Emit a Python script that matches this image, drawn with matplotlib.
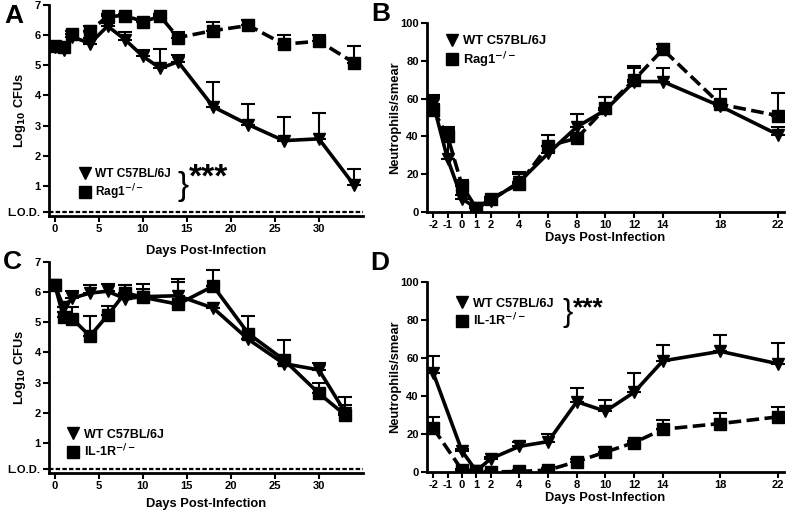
import numpy as np
import matplotlib
matplotlib.use("Agg")
import matplotlib.pyplot as plt
from matplotlib.lines import Line2D

plt.rcParams['font.family'] = ['Liberation Sans', 'DejaVu Sans']
plt.rcParams['font.weight'] = 'bold'
plt.rcParams['mathtext.default'] = 'bf'
plt.rcParams['axes.unicode_minus'] = False

# panel A - CFUs, WT vs Rag1-/-
a_days = [0, 1, 2, 4, 6, 8, 10, 12, 14, 18, 22, 26, 30, 34]
a_wt = [5.6, 5.5, 5.95, 5.72, 6.3, 5.85, 5.3, 4.9, 5.12, 3.62, 3.03, 2.5, 2.56, 1.02]
a_wt_top = [5.6, 5.5, 6.15, 5.9, 6.4, 6.1, 5.5, 5.55, 5.35, 4.45, 3.72, 3.28, 3.42, 1.55]
a_rag = [5.65, 5.6, 6.05, 6.15, 6.62, 6.65, 6.45, 6.62, 5.92, 6.15, 6.32, 5.7, 5.8, 5.08]
a_rag_top = [5.7, 5.65, 6.15, 6.3, 6.7, 6.7, 6.55, 6.7, 6.1, 6.45, 6.5, 6.0, 6.0, 5.65]

# panel B - neutrophils, WT vs Rag1-/-
b_days = [-2, -1, 0, 1, 2, 4, 6, 8, 10, 12, 14, 18, 22]
b_wt = [57, 28, 7, 2, 6, 16, 31, 45, 54, 69, 69, 56, 41]
b_wt_top = [62, 44, 9, 3, 7, 21, 35, 52, 61, 76, 76, 58, 45]
b_rag = [54, 40, 14, 2, 7, 15, 35, 39, 55, 70, 86, 57, 51]
b_rag_top = [61, 45, 17, 3, 8, 20, 41, 40, 61, 77, 89, 65, 63]

# panel C - CFUs, WT vs IL-1R-/-
c_days = [0, 1, 2, 4, 6, 8, 10, 14, 18, 22, 26, 30, 33]
c_wt = [6.25, 5.5, 5.8, 5.97, 6.03, 5.78, 5.85, 5.88, 5.47, 4.43, 3.63, 3.42, 2.0]
c_wt_top = [6.25, 5.5, 6.05, 6.25, 6.28, 6.25, 6.27, 6.45, 5.47, 4.43, 3.63, 3.65, 2.52]
c_il1r = [6.25, 5.17, 5.12, 4.54, 5.23, 5.98, 5.83, 5.6, 6.2, 4.62, 3.76, 2.64, 1.92]
c_il1r_top = [6.25, 5.35, 5.5, 5.2, 5.55, 6.25, 6.1, 6.35, 6.75, 5.22, 4.4, 3.0, 2.25]

# panel D - neutrophils, WT vs IL-1R-/-
d_wt_days = [-2, 0, 1, 2, 4, 6, 8, 10, 12, 14, 18, 22]
d_wt = [52, 11, 0.5, 7, 13.5, 16, 37, 32, 42, 58.5, 63.5, 57]
d_wt_top = [61, 12, 1, 8, 16, 20, 44, 38, 52, 67, 72, 68]
d_il_days = [-2, 0, 1, 2, 4, 6, 8, 10, 12, 14, 18, 22]
d_il = [23, 1, 0.5, 0, 0.3, 1, 5.5, 10.5, 15.5, 22.5, 25.5, 29]
d_il_top = [29, 1.5, 1, 0.5, 0.8, 2, 7, 13, 16.5, 27.5, 31, 34]

lod = 0.13
cfu_ticks = [lod, 1, 2, 3, 4, 5, 6, 7]
cfu_labels = ['L.O.D.', '1', '2', '3', '4', '5', '6', '7']
neu_xticks = [-2, -1, 0, 1, 2, 4, 6, 8, 10, 12, 14, 18, 22]

W, H = 787, 511
fig = plt.figure(figsize=(W / 100, H / 100), dpi=100)


def px_axes(left, right, top, bottom):
    return fig.add_axes([left / W, 1 - bottom / H, (right - left) / W, (bottom - top) / H])


def series(ax, x, y, top, marker, ls, ms):
    y = np.array(y, dtype=float)
    err = np.array(top, dtype=float) - y
    ax.errorbar(x, y, yerr=[np.zeros_like(err), err], fmt='none', ecolor='black',
                elinewidth=1.5, capsize=5, capthick=1.5, zorder=2)
    ax.plot(x, y, color='black', lw=2.6, ls=ls, marker=marker, ms=ms,
            markerfacecolor='black', markeredgecolor='black', zorder=3)


def style(ax):
    for s in ['top', 'right']:
        ax.spines[s].set_visible(False)
    for s in ['left', 'bottom']:
        ax.spines[s].set_linewidth(2)
    ax.tick_params(direction='out', width=1.5, length=4, labelsize=8, pad=2)
    for t in ax.get_xticklabels() + ax.get_yticklabels():
        t.set_fontweight('bold')


dash = (0, (3.5, 1.5))

# A
axA = px_axes(49, 363, 5, 216)
series(axA, a_days, a_wt, a_wt_top, 'v', '-', 9)
series(axA, a_days, a_rag, a_rag_top, 's', dash, 9)
axA.axhline(lod, color='black', lw=1.6, ls=(0, (2, 1)))
axA.set_xlim(-0.65, 35)
axA.set_ylim(0, 7)
axA.set_yticks(cfu_ticks)
axA.set_yticklabels(cfu_labels)
axA.set_xticks([0, 5, 10, 15, 20, 25, 30])
axA.set_ylabel('Log$_{10}$ CFUs', fontsize=9.3, fontweight='bold')
axA.yaxis.set_label_coords((28 - 49) / 314, 0.5)
axA.set_xlabel('Days Post-Infection', fontsize=9.3, fontweight='bold', labelpad=8)
style(axA)

# B
axB = px_axes(427, 784, 23, 212)
series(axB, b_days, b_wt, b_wt_top, 'v', '-', 9)
series(axB, b_days, b_rag, b_rag_top, 's', dash, 9)
axB.set_xlim(-2.44, 22.44)
axB.set_ylim(0, 100)
axB.set_xticks(neu_xticks)
axB.set_yticks([0, 20, 40, 60, 80, 100])
axB.set_ylabel('Neutrophils/smear', fontsize=9.3, fontweight='bold')
axB.yaxis.set_label_coords((401 - 427) / 357, 0.5)
axB.set_xlabel('Days Post-Infection', fontsize=9.3, fontweight='bold', labelpad=1)
style(axB)

# C
axC = px_axes(49, 363, 262, 473)
series(axC, c_days, c_wt, c_wt_top, 'v', '-', 9)
series(axC, c_days, c_il1r, c_il1r_top, 's', '-', 9)
axC.axhline(lod, color='black', lw=1.6, ls=(0, (2, 1)))
axC.set_xlim(-0.65, 35)
axC.set_ylim(0, 7)
axC.set_yticks(cfu_ticks)
axC.set_yticklabels(cfu_labels)
axC.set_xticks([0, 5, 10, 15, 20, 25, 30])
axC.set_ylabel('Log$_{10}$ CFUs', fontsize=9.3, fontweight='bold')
axC.yaxis.set_label_coords((28 - 49) / 314, 0.5)
axC.set_xlabel('Days Post-Infection', fontsize=9.3, fontweight='bold', labelpad=5)
style(axC)

# D
axD = px_axes(427, 784, 282, 472)
series(axD, d_wt_days, d_wt, d_wt_top, 'v', '-', 9)
series(axD, d_il_days, d_il, d_il_top, 's', dash, 9)
axD.set_xlim(-2.44, 22.44)
axD.set_ylim(0, 100)
axD.set_xticks(neu_xticks)
axD.set_yticks([0, 20, 40, 60, 80, 100])
axD.set_ylabel('Neutrophils/smear', fontsize=9.3, fontweight='bold')
axD.yaxis.set_label_coords((401 - 427) / 357, 0.5)
axD.set_xlabel('Days Post-Infection', fontsize=9.3, fontweight='bold', labelpad=1)
style(axD)


def legend(ax, label2, loc_xy, fs):
    h = [Line2D([], [], color='black', marker='v', ms=8.5, ls='-', lw=0),
         Line2D([], [], color='black', marker='s', ms=8.5, ls='-', lw=0)]
    leg = ax.legend(h, ['WT C57BL/6J', label2], loc='upper left', bbox_to_anchor=loc_xy,
                    frameon=False, fontsize=fs, handlelength=0.8, handletextpad=0.5,
                    labelspacing=0.2, borderaxespad=0, borderpad=0)
    for t in leg.get_texts():
        t.set_fontweight('bold')
    return leg


rag_lab = 'Rag1$^{-/-}$'
il_lab = 'IL-1R$^{-/-}$'
legend(axA, rag_lab, (0.098, 0.227), 8.6)
legend(axB, rag_lab, (0.054, 0.935), 9.4)
legend(axC, il_lab, (0.06, 0.21), 9.0)
legend(axD, il_lab, (0.084, 0.918), 9.1)

# significance brackets
fig.text(177 / W, 1 - 186 / H, '}', fontsize=24, va='center', ha='left', fontweight='normal')
fig.text(189 / W, 1 - 178 / H, '***', fontsize=24, va='center', ha='left', fontweight='bold')
fig.text(562 / W, 1 - 313 / H, '}', fontsize=22, va='center', ha='left', fontweight='normal')
fig.text(573 / W, 1 - 308 / H, '***', fontsize=19, va='center', ha='left', fontweight='bold')

# panel letters
for lab, x, y in [('A', 14, 16), ('B', 381, 14), ('C', 12, 262), ('D', 380, 263)]:
    fig.text(x / W, 1 - y / H, lab, fontsize=19, fontweight='bold', ha='center', va='center')

fig.savefig('out.png', dpi=100)
